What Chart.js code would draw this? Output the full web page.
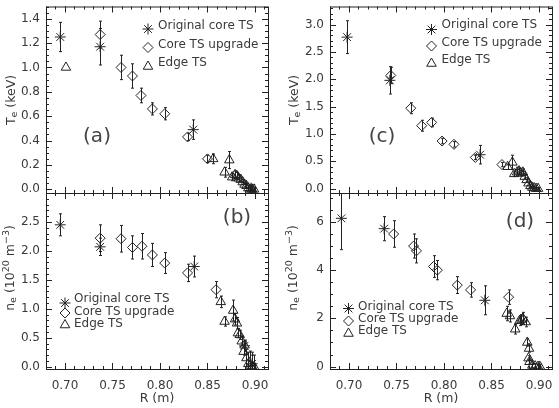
<!DOCTYPE html>
<html>
<head>
<meta charset="utf-8">
<script src="https://cdn.jsdelivr.net/npm/chart.js@4/dist/chart.umd.min.js"></script>
<style>
  html, body { margin: 0; padding: 0; background: #fff; }
  #wrap { position: relative; width: 559px; height: 408px; }
  #wrap canvas { position: absolute; left: 0; top: 0; }
</style>
</head>
<body>
<div id="wrap">
  <canvas id="pa" width="559" height="408"></canvas>
  <canvas id="pb" width="559" height="408"></canvas>
  <canvas id="pc" width="559" height="408"></canvas>
  <canvas id="pd" width="559" height="408"></canvas>
</div>
<script>
// shared x axis
const xTicks = [0.70, 0.75, 0.80, 0.85, 0.90];

// (a) Te
const aCoreR = [0.695, 0.737, 0.835, 0.896];
const aCoreTe = [1.25, 1.17, 0.49, 0.01];
const aCoreErr = [0.12, 0.15, 0.08, 0.02];
const aUpR = [0.737, 0.759, 0.771, 0.780, 0.792, 0.805, 0.829, 0.850];
const aUpTe = [1.27, 1.00, 0.93, 0.77, 0.66, 0.62, 0.43, 0.25];
const aUpErr = [0.11, 0.10, 0.10, 0.06, 0.05, 0.05, 0.03, 0.03];
const aEdgeR = [0.701, 0.856, 0.868, 0.873, 0.876, 0.879, 0.881, 0.883, 0.885, 0.887, 0.889, 0.891, 0.893, 0.895, 0.897, 0.899];
const aEdgeTe = [1.00, 0.25, 0.14, 0.24, 0.10, 0.12, 0.11, 0.09, 0.08, 0.06, 0.04, 0.03, 0.01, 0.0, 0.0, 0.0];
const aEdgeErr = [0, 0.04, 0.04, 0.07, 0.03, 0.03, 0.03, 0.03, 0.02, 0.02, 0.02, 0.02, 0.02, 0.02, 0.02, 0.02];
const aTicks = [0.0, 0.2, 0.4, 0.6, 0.8, 1.0, 1.2, 1.4];

// (b) ne
const bCoreR = [0.695, 0.737, 0.836, 0.889, 0.897];
const bCoreNe = [2.45, 2.07, 1.73, 0.36, 0.05];
const bCoreErr = [0.19, 0.15, 0.18, 0.10, 0.20];
const bUpR = [0.737, 0.759, 0.771, 0.781, 0.792, 0.805, 0.829, 0.859];
const bUpNe = [2.22, 2.21, 2.06, 2.08, 1.93, 1.79, 1.62, 1.33];
const bUpErr = [0.23, 0.23, 0.20, 0.22, 0.20, 0.18, 0.15, 0.14];
const bEdgeR = [0.864, 0.868, 0.877, 0.879, 0.881, 0.882, 0.884, 0.886, 0.888, 0.889, 0.891, 0.893, 0.895, 0.897, 0.899];
const bEdgeNe = [1.12, 0.78, 0.97, 0.82, 0.75, 0.58, 0.55, 0.44, 0.26, 0.37, 0.15, 0.05, 0.02, 0.0, 0.0];
const bEdgeErr = [0.10, 0.08, 0.18, 0.10, 0.10, 0.08, 0.08, 0.08, 0.06, 0.07, 0.15, 0.20, 0.25, 0.20, 0.20];
const bTicks = [0.0, 0.5, 1.0, 1.5, 2.0, 2.5];

// (c) Te
const cCoreR = [0.698, 0.743, 0.838];
const cCoreTe = [2.77, 1.98, 0.62];
const cCoreErr = [0.30, 0.25, 0.17];
const cUpR = [0.744, 0.765, 0.7765, 0.787, 0.798, 0.8105, 0.833, 0.861];
const cUpTe = [2.07, 1.47, 1.15, 1.21, 0.87, 0.81, 0.57, 0.44];
const cUpErr = [0.15, 0.10, 0.10, 0.08, 0.05, 0.05, 0.04, 0.04];
const cEdgeR = [0.867, 0.872, 0.874, 0.877, 0.879, 0.881, 0.883, 0.885, 0.887, 0.889, 0.891, 0.893, 0.895, 0.897, 0.899];
const cEdgeTe = [0.40, 0.48, 0.27, 0.30, 0.32, 0.28, 0.30, 0.22, 0.16, 0.10, 0.05, 0.02, 0.01, 0.0, 0.0];
const cEdgeErr = [0.05, 0.13, 0.05, 0.05, 0.06, 0.05, 0.06, 0.05, 0.04, 0.04, 0.03, 0.02, 0.02, 0.02, 0.02];
const cTicks = [0.0, 0.5, 1.0, 1.5, 2.0, 2.5, 3.0];

// (d) ne
const dCoreR = [0.692, 0.737, 0.843];
const dCoreNe = [6.15, 5.72, 2.75];
const dCoreErr = [1.3, 0.5, 0.6];
const dUpR = [0.747, 0.768, 0.771, 0.789, 0.793, 0.814, 0.828, 0.868];
const dUpNe = [5.5, 5.0, 4.8, 4.15, 4.0, 3.38, 3.18, 2.88];
const dUpErr = [0.55, 0.5, 0.5, 0.45, 0.4, 0.35, 0.3, 0.3];
const dEdgeR = [0.866, 0.8695, 0.875, 0.8795, 0.8815, 0.883, 0.886, 0.8877, 0.8895, 0.889, 0.890, 0.893, 0.896, 0.899, 0.901];
const dEdgeNe = [2.2, 2.1, 1.55, 1.9, 1.95, 2.0, 1.85, 1.0, 0.75, 0.35, 0.2, 0.05, 0.02, 0.0, 0.0];
const dEdgeErr = [0.3, 0.25, 0.2, 0.2, 0.2, 0.25, 0.2, 0.15, 0.15, 0.1, 0.1, 0.1, 0.1, 0.1, 0.1];
const dTicks = [0, 2, 4, 6];

const legendLabels = ['Original core TS', 'Core TS upgrade', 'Edge TS'];

const W = 559, H = 408;
const INK = '#222';
const TXT = '#3a3a3a';
const FONT = 'DejaVu Sans';

const styles = [
  { pointStyle: 'star', radius: 5.5 },
  { pointStyle: 'rectRot', radius: 5 },
  { pointStyle: 'triangle', radius: 5.5 },
];

// vertical error bars under the markers
const errorBars = {
  id: 'errorBars',
  beforeDatasetsDraw(chart) {
    const { ctx, chartArea: a, scales: { x, y } } = chart;
    ctx.save();
    ctx.beginPath();
    ctx.rect(a.left, a.top, a.right - a.left, a.bottom - a.top);
    ctx.clip();
    ctx.strokeStyle = INK;
    ctx.lineWidth = 1;
    chart.data.datasets.forEach(ds => {
      ds.data.forEach(d => {
        if (!d.err) return;
        const px = Math.round(x.getPixelForValue(d.x)) + 0.5;
        const y1 = y.getPixelForValue(d.y - d.err);
        const y2 = y.getPixelForValue(d.y + d.err);
        ctx.beginPath();
        ctx.moveTo(px, y1); ctx.lineTo(px, y2);
        ctx.moveTo(px - 1.5, y1); ctx.lineTo(px + 1.5, y1);
        ctx.moveTo(px - 1.5, y2); ctx.lineTo(px + 1.5, y2);
        ctx.stroke();
      });
    });
    ctx.restore();
  }
};

function stepsIn(min, max, step) {
  const out = [];
  for (let k = Math.ceil(min / step - 1e-6); k * step <= max + 1e-9; k++) out.push(k * step);
  return out;
}

// IDL style box: frame plus inward major/minor ticks on all four sides
const frame = {
  id: 'frame',
  afterDraw(chart, args, opts) {
    const { ctx, chartArea: a, scales: { x, y } } = chart;
    ctx.save();
    ctx.strokeStyle = INK;
    ctx.lineWidth = 1;
    ctx.strokeRect(a.left + 0.5, a.top + 0.5, a.right - a.left, a.bottom - a.top);
    ctx.beginPath();
    const xt = (v, len) => {
      const p = Math.round(x.getPixelForValue(v)) + 0.5;
      ctx.moveTo(p, a.bottom); ctx.lineTo(p, a.bottom - len);
      ctx.moveTo(p, a.top); ctx.lineTo(p, a.top + len);
    };
    const yt = (v, len) => {
      const p = Math.round(y.getPixelForValue(v)) + 0.5;
      ctx.moveTo(a.left, p); ctx.lineTo(a.left + len, p);
      ctx.moveTo(a.right, p); ctx.lineTo(a.right - len, p);
    };
    stepsIn(x.min, x.max, 0.01).forEach(v => xt(v, 3));
    xTicks.forEach(v => xt(v, 6));
    stepsIn(y.min, y.max, opts.yMinor).forEach(v => yt(v, 3));
    opts.yMajor.forEach(v => yt(v, 6));
    ctx.stroke();

    // legend
    ctx.font = '12px "' + FONT + '"';
    ctx.textBaseline = 'middle';
    ctx.textAlign = 'left';
    const lg = opts.legend;
    legendLabels.forEach((t, i) => {
      ctx.fillStyle = TXT;
      ctx.fillText(t, lg.tx, lg.ty[i]);
      ctx.strokeStyle = INK;
      ctx.fillStyle = 'rgba(0,0,0,0)';
      Chart.helpers.drawPoint(ctx, { pointStyle: styles[i].pointStyle, radius: styles[i].radius, rotation: 0, borderWidth: 1 }, lg.sx, lg.sy[i]);
    });

    // panel letter
    ctx.fillStyle = '#444';
    ctx.font = '20px "' + FONT + '"';
    ctx.textAlign = 'center';
    ctx.fillText(opts.tag.text, opts.tag.x, opts.tag.y);

    // y title with sub/superscripts, rotated
    ctx.save();
    ctx.translate(opts.ytitle.x, opts.ytitle.y);
    ctx.rotate(-Math.PI / 2);
    ctx.fillStyle = TXT;
    const parts = opts.ytitle.parts;
    const big = '12.5px "' + FONT + '"', small = '9.5px "' + FONT + '"';
    let total = 0;
    parts.forEach(p => { ctx.font = p.k ? small : big; total += ctx.measureText(p.t).width; });
    let cx = -total / 2;
    ctx.textAlign = 'left';
    parts.forEach(p => {
      ctx.font = p.k ? small : big;
      const dy = p.k === 'sub' ? 3 : p.k === 'sup' ? -4 : 0;
      ctx.fillText(p.t, cx, dy);
      cx += ctx.measureText(p.t).width;
    });
    ctx.restore();

    // x title
    if (opts.xtitle) {
      ctx.font = '12.5px "' + FONT + '"';
      ctx.fillStyle = TXT;
      ctx.textAlign = 'center';
      ctx.fillText('R (m)', (a.left + a.right) / 2, 399);
    }
    ctx.restore();
  }
};

const teTitle = [{ t: 'T' }, { t: 'e', k: 'sub' }, { t: ' (keV)' }];
const neTitle = [{ t: 'n' }, { t: 'e', k: 'sub' }, { t: ' (10' }, { t: '20', k: 'sup' }, { t: ' m' }, { t: '\u22123', k: 'sup' }, { t: ')' }];

function series(r, v, e) {
  return r.map((rv, i) => ({ x: rv, y: v[i], err: e[i] }));
}

// box = plot area in page pixels; yw = room kept for y tick labels, xh = room for x tick labels
function makePanel(id, box, yw, xh, yMin, yMax, yMajor, yMinor, yDec, sets, deco) {
  const datasets = sets.map((s, i) => ({
    label: legendLabels[i],
    data: s,
    pointStyle: styles[i].pointStyle,
    pointRadius: styles[i].radius,
    borderColor: INK,
    backgroundColor: 'rgba(0,0,0,0)',
    borderWidth: 1,
    showLine: false,
  }));
  return new Chart(document.getElementById(id), {
    type: 'scatter',
    data: { datasets },
    options: {
      responsive: false,
      animation: false,
      events: [],
      layout: { padding: { left: box.l - yw, top: box.t, right: W - box.r, bottom: H - box.b - xh } },
      plugins: {
        legend: { display: false },
        tooltip: { enabled: false },
        frame: Object.assign({ yMajor, yMinor }, deco),
      },
      scales: {
        x: {
          type: 'linear', min: 0.68, max: 0.9137,
          grid: { display: false, drawTicks: false },
          border: { display: false },
          ticks: {
            display: xh > 0, color: TXT, padding: 10, maxRotation: 0, autoSkip: false,
            font: { family: FONT, size: 12 },
            callback: v => v.toFixed(2),
          },
          afterBuildTicks: s => { s.ticks = xTicks.map(v => ({ value: v })); },
          afterFit: s => { s.height = xh; s.paddingLeft = 0; s.paddingRight = 0; },
        },
        y: {
          type: 'linear', min: yMin, max: yMax,
          grid: { display: false, drawTicks: false },
          border: { display: false },
          ticks: {
            color: TXT, padding: 6, autoSkip: false,
            font: { family: FONT, size: 12 },
            callback: v => v.toFixed(yDec),
          },
          afterBuildTicks: s => { s.ticks = yMajor.map(v => ({ value: v })); },
          afterFit: s => { s.width = yw; s.paddingTop = 0; s.paddingBottom = 0; },
        },
      },
    },
    plugins: [errorBars, frame],
  });
}

makePanel('pa', { l: 46, t: 5, r: 268, b: 193 }, 30, 0, -0.03, 1.5, aTicks, 0.05, 1,
  [series(aCoreR, aCoreTe, aCoreErr), series(aUpR, aUpTe, aUpErr), series(aEdgeR, aEdgeTe, aEdgeErr)],
  { legend: { sx: 148, sy: [29, 47.5, 66.5], tx: 158, ty: [26, 44.5, 63] },
    tag: { text: '(a)', x: 97, y: 137 }, ytitle: { x: 12, y: 100, parts: teTitle } });

makePanel('pb', { l: 46, t: 193, r: 268, b: 369 }, 30, 28, -0.04, 3.0, bTicks, 0.1, 1,
  [series(bCoreR, bCoreNe, bCoreErr), series(bUpR, bUpNe, bUpErr), series(bEdgeR, bEdgeNe, bEdgeErr)],
  { legend: { sx: 65, sy: [303, 313, 325], tx: 74, ty: [298.5, 311.5, 323.5] },
    tag: { text: '(b)', x: 237, y: 218 }, ytitle: { x: 11, y: 268, parts: neTitle }, xtitle: true });

makePanel('pc', { l: 330, t: 5, r: 552, b: 193 }, 30, 0, -0.08, 3.33, cTicks, 0.1, 1,
  [series(cCoreR, cCoreTe, cCoreErr), series(cUpR, cUpTe, cUpErr), series(cEdgeR, cEdgeTe, cEdgeErr)],
  { legend: { sx: 431.5, sy: [29.5, 46, 63.5], tx: 441.5, ty: [25, 42.5, 60] },
    tag: { text: '(c)', x: 382, y: 137 }, ytitle: { x: 295, y: 100, parts: teTitle } });

makePanel('pd', { l: 330, t: 193, r: 552, b: 369 }, 30, 28, -0.1, 7.2, dTicks, 0.5, 0,
  [series(dCoreR, dCoreNe, dCoreErr), series(dUpR, dUpNe, dUpErr), series(dEdgeR, dEdgeNe, dEdgeErr)],
  { legend: { sx: 348.5, sy: [308.5, 321, 333.5], tx: 358, ty: [306.5, 318.5, 330.5] },
    tag: { text: '(d)', x: 520, y: 222 }, ytitle: { x: 294, y: 268, parts: neTitle }, xtitle: true });
</script>
</body>
</html>
